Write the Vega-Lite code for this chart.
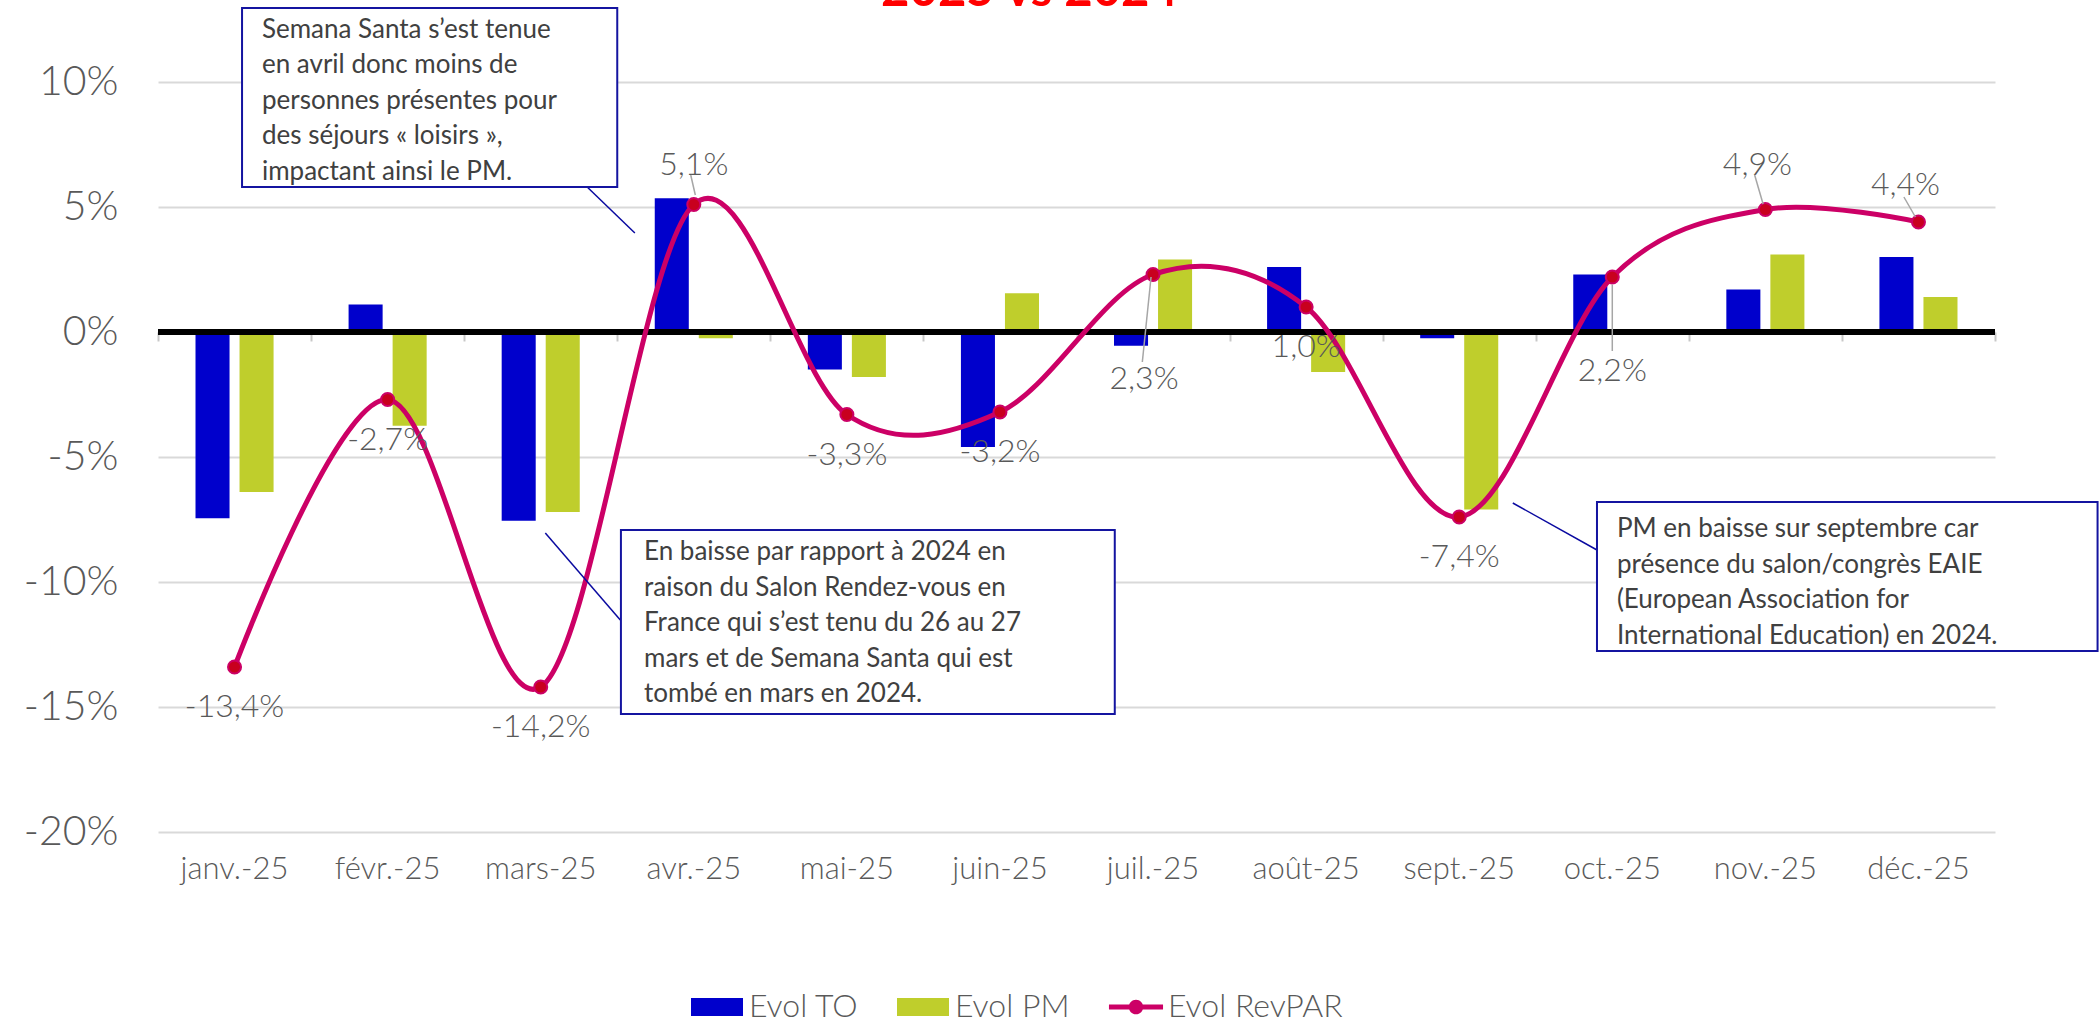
{
  "$schema": "https://vega.github.io/schema/vega-lite/v6.json",
  "autosize": {"type": "none"},
  "width": 1837,
  "height": 750,
  "padding": {"left": 158, "top": 82, "right": 105, "bottom": 198},
  "background": "white",
  "title": {"text": "2025 vs 2024", "color": "#FF0000", "fontSize": 49, "font": "Lato", "fontWeight": "bold", "frame": "group", "anchor": "middle", "offset": 0, "baseline": "alphabetic", "dx": -47, "dy": 48},
  "config": {
    "locale": {"number": {"decimal": ",", "thousands": " ", "grouping": [3], "currency": ["", " €"], "minus": "-"}},
    "view": {"stroke": null},
    "font": "Lato"
  },
  "datasets": {
    "kpi": [
      {"month": "janv.-25", "series": "Evol TO", "value": -0.0745},
      {"month": "janv.-25", "series": "Evol PM", "value": -0.064},
      {"month": "janv.-25", "series": "Evol RevPAR", "value": -0.134},
      {"month": "févr.-25", "series": "Evol TO", "value": 0.011},
      {"month": "févr.-25", "series": "Evol PM", "value": -0.0375},
      {"month": "févr.-25", "series": "Evol RevPAR", "value": -0.027},
      {"month": "mars-25", "series": "Evol TO", "value": -0.0755},
      {"month": "mars-25", "series": "Evol PM", "value": -0.072},
      {"month": "mars-25", "series": "Evol RevPAR", "value": -0.142},
      {"month": "avr.-25", "series": "Evol TO", "value": 0.0535},
      {"month": "avr.-25", "series": "Evol PM", "value": -0.0025},
      {"month": "avr.-25", "series": "Evol RevPAR", "value": 0.051},
      {"month": "mai-25", "series": "Evol TO", "value": -0.015},
      {"month": "mai-25", "series": "Evol PM", "value": -0.018},
      {"month": "mai-25", "series": "Evol RevPAR", "value": -0.033},
      {"month": "juin-25", "series": "Evol TO", "value": -0.046},
      {"month": "juin-25", "series": "Evol PM", "value": 0.0155},
      {"month": "juin-25", "series": "Evol RevPAR", "value": -0.032},
      {"month": "juil.-25", "series": "Evol TO", "value": -0.0055},
      {"month": "juil.-25", "series": "Evol PM", "value": 0.029},
      {"month": "juil.-25", "series": "Evol RevPAR", "value": 0.023},
      {"month": "août-25", "series": "Evol TO", "value": 0.026},
      {"month": "août-25", "series": "Evol PM", "value": -0.016},
      {"month": "août-25", "series": "Evol RevPAR", "value": 0.010},
      {"month": "sept.-25", "series": "Evol TO", "value": -0.0025},
      {"month": "sept.-25", "series": "Evol PM", "value": -0.071},
      {"month": "sept.-25", "series": "Evol RevPAR", "value": -0.074},
      {"month": "oct.-25", "series": "Evol TO", "value": 0.023},
      {"month": "oct.-25", "series": "Evol PM", "value": 0.0},
      {"month": "oct.-25", "series": "Evol RevPAR", "value": 0.022},
      {"month": "nov.-25", "series": "Evol TO", "value": 0.017},
      {"month": "nov.-25", "series": "Evol PM", "value": 0.031},
      {"month": "nov.-25", "series": "Evol RevPAR", "value": 0.049},
      {"month": "déc.-25", "series": "Evol TO", "value": 0.030},
      {"month": "déc.-25", "series": "Evol PM", "value": 0.014},
      {"month": "déc.-25", "series": "Evol RevPAR", "value": 0.044}
    ]
  },
  "data": {"name": "kpi"},
  "resolve": {"scale": {"x": "independent"}, "axis": {"x": "independent"}},
  "layer": [
    {
      "encoding": {
        "y": {"field": "value", "type": "quantitative", "scale": {"domain": [-0.2, 0.1], "nice": false},
          "axis": {"title": null, "values": [-0.2, -0.15, -0.1, -0.05, 0, 0.05, 0.1], "format": ".0%", "domain": false, "ticks": false, "grid": true, "gridColor": "#D9D9D9", "gridWidth": 2, "labelFont": "Lato", "labelFontSize": 41, "labelFontWeight": 300, "labelColor": "#595959", "labelPadding": 40}}
      },
      "layer": [
        {
          "transform": [{"filter": {"field": "series", "oneOf": ["Evol TO", "Evol PM"]}}],
          "mark": {"type": "bar"},
          "encoding": {
            "x": {"field": "month", "type": "nominal", "sort": null, "scale": {"type": "band", "paddingInner": 0.49, "paddingOuter": 0.245},
              "axis": {"title": null, "domain": false, "ticks": false, "grid": false, "labelAngle": 0, "labelFont": "Lato", "labelFontSize": 31, "labelFontWeight": 300, "labelColor": "#595959", "labelPadding": 22}},
            "xOffset": {"field": "series", "type": "nominal", "sort": ["Evol TO", "Evol PM"], "scale": {"paddingInner": 0.227, "paddingOuter": 0}},
            "color": {"field": "series", "type": "nominal",
              "scale": {"domain": ["Evol TO", "Evol PM", "Evol RevPAR"], "range": ["#0000CC", "#BFCE2C", "#CC0066"]},
              "legend": {"orient": "none", "legendX": 533, "legendY": 899, "direction": "horizontal", "title": null,
                "labelFont": "Lato", "labelFontSize": 32, "labelFontWeight": 300, "labelColor": "#595959", "labelOffset": 6, "labelLimit": 400, "columnPadding": 38, "symbolSize": 2704, "symbolStrokeWidth": 0,
                "encode": {"symbols": {"update": {
                  "shape": {"signal": "datum.value === 'Evol RevPAR' ? 'M-1.04,-0.1H1.04V0.1H-1.04Z M-0.28,0A0.28,0.28,0,1,1,0.28,0A0.28,0.28,0,1,1,-0.28,0Z' : 'M-1,-0.35H1V0.35H-1Z'"},
                  "fill": {"scale": "color", "field": "value"},
                  "stroke": {"value": "transparent"},
                  "opacity": {"value": 1}}}}}}
          }
        },
        {
          "mark": {"type": "rule", "color": "#000000", "strokeWidth": 5},
          "encoding": {"y": {"datum": 0}}
        },
        {
          "transform": [{"filter": {"field": "series", "equal": "Evol RevPAR"}}],
          "mark": {"type": "line", "interpolate": "cardinal", "color": "#CC0066", "strokeWidth": 5},
          "encoding": {"x": {"field": "month", "type": "nominal", "sort": null}}
        },
        {
          "transform": [{"filter": {"field": "series", "equal": "Evol RevPAR"}}],
          "mark": {"type": "point", "filled": true, "fill": "#C8001E", "stroke": "#CC0066", "strokeWidth": 2, "size": 170, "opacity": 1},
          "encoding": {"x": {"field": "month", "type": "nominal", "sort": null}}
        },
        {
          "transform": [{"filter": {"field": "series", "equal": "Evol RevPAR"}}, {"filter": {"field": "month", "oneOf": ["janv.-25", "févr.-25", "mars-25", "mai-25", "juin-25", "août-25", "sept.-25"]}}],
          "mark": {"type": "text", "dy": 40, "baseline": "middle", "font": "Lato", "fontSize": 32, "fontWeight": 300, "color": "#595959"},
          "encoding": {"x": {"field": "month", "type": "nominal", "sort": null}, "text": {"field": "value", "type": "quantitative", "format": ".1%"}}
        },
        {
          "transform": [{"filter": {"field": "series", "equal": "Evol RevPAR"}}, {"filter": {"field": "month", "equal": "avr.-25"}}],
          "mark": {"type": "text", "dy": -40, "baseline": "middle", "font": "Lato", "fontSize": 32, "fontWeight": 300, "color": "#595959"},
          "encoding": {"x": {"field": "month", "type": "nominal", "sort": null}, "text": {"field": "value", "type": "quantitative", "format": ".1%"}}
        },
        {
          "transform": [{"filter": {"field": "series", "equal": "Evol RevPAR"}}, {"filter": {"field": "month", "equal": "juil.-25"}}],
          "mark": {"type": "text", "dy": 104, "dx": -9, "baseline": "middle", "font": "Lato", "fontSize": 32, "fontWeight": 300, "color": "#595959"},
          "encoding": {"x": {"field": "month", "type": "nominal", "sort": null}, "text": {"field": "value", "type": "quantitative", "format": ".1%"}}
        },
        {
          "transform": [{"filter": {"field": "series", "equal": "Evol RevPAR"}}, {"filter": {"field": "month", "equal": "oct.-25"}}],
          "mark": {"type": "text", "dy": 94, "baseline": "middle", "font": "Lato", "fontSize": 32, "fontWeight": 300, "color": "#595959"},
          "encoding": {"x": {"field": "month", "type": "nominal", "sort": null}, "text": {"field": "value", "type": "quantitative", "format": ".1%"}}
        },
        {
          "transform": [{"filter": {"field": "series", "equal": "Evol RevPAR"}}, {"filter": {"field": "month", "equal": "nov.-25"}}],
          "mark": {"type": "text", "dy": -45, "dx": -8, "baseline": "middle", "font": "Lato", "fontSize": 32, "fontWeight": 300, "color": "#595959"},
          "encoding": {"x": {"field": "month", "type": "nominal", "sort": null}, "text": {"field": "value", "type": "quantitative", "format": ".1%"}}
        },
        {
          "transform": [{"filter": {"field": "series", "equal": "Evol RevPAR"}}, {"filter": {"field": "month", "equal": "déc.-25"}}],
          "mark": {"type": "text", "dy": -37, "dx": -13, "baseline": "middle", "font": "Lato", "fontSize": 32, "fontWeight": 300, "color": "#595959"},
          "encoding": {"x": {"field": "month", "type": "nominal", "sort": null}, "text": {"field": "value", "type": "quantitative", "format": ".1%"}}
        }
      ]
    },
    {
      "data": {"values": [{}]},
      "layer": [
        {
          "mark": {"type": "rule", "color": "#0A0AA0", "strokeWidth": 1.5},
          "encoding": {
            "x": {"datum": 2.79, "type": "quantitative", "scale": {"domain": [0, 12], "nice": false, "zero": false},
              "axis": {"orient": "bottom", "offset": -500, "values": [0, 1, 2, 3, 4, 5, 6, 7, 8, 9, 10, 11, 12], "labels": false, "domain": false, "grid": false, "ticks": true, "tickSize": 9, "tickColor": "#C8C8C8", "tickWidth": 2, "title": null}},
            "y": {"datum": 0.0588, "type": "quantitative"},
            "x2": {"datum": 3.115},
            "y2": {"datum": 0.0396}
          }
        },
        {
          "mark": {"type": "rule", "color": "#0A0AA0", "strokeWidth": 1.5},
          "encoding": {
            "x": {"datum": 2.53, "type": "quantitative", "scale": {"domain": [0, 12], "nice": false, "zero": false}},
            "y": {"datum": -0.0804, "type": "quantitative"},
            "x2": {"datum": 3.02},
            "y2": {"datum": -0.1152}
          }
        },
        {
          "mark": {"type": "rule", "color": "#0A0AA0", "strokeWidth": 1.5},
          "encoding": {
            "x": {"datum": 8.85, "type": "quantitative", "scale": {"domain": [0, 12], "nice": false, "zero": false}},
            "y": {"datum": -0.0684, "type": "quantitative"},
            "x2": {"datum": 9.40},
            "y2": {"datum": -0.0872}
          }
        },
        {
          "mark": {"type": "rule", "color": "#A6A6A6", "strokeWidth": 1.5},
          "encoding": {
            "x": {"datum": 3.48, "type": "quantitative", "scale": {"domain": [0, 12], "nice": false, "zero": false}},
            "y": {"datum": 0.0628, "type": "quantitative"},
            "x2": {"datum": 3.51},
            "y2": {"datum": 0.0548}
          }
        },
        {
          "mark": {"type": "rule", "color": "#A6A6A6", "strokeWidth": 1.5},
          "encoding": {
            "x": {"datum": 6.43, "type": "quantitative", "scale": {"domain": [0, 12], "nice": false, "zero": false}},
            "y": {"datum": -0.012, "type": "quantitative"},
            "x2": {"datum": 6.487},
            "y2": {"datum": 0.022}
          }
        },
        {
          "mark": {"type": "rule", "color": "#A6A6A6", "strokeWidth": 1.5},
          "encoding": {
            "x": {"datum": 9.5, "type": "quantitative", "scale": {"domain": [0, 12], "nice": false, "zero": false}},
            "y": {"datum": -0.0076, "type": "quantitative"},
            "x2": {"datum": 9.5},
            "y2": {"datum": 0.019}
          }
        },
        {
          "mark": {"type": "rule", "color": "#A6A6A6", "strokeWidth": 1.5},
          "encoding": {
            "x": {"datum": 10.43, "type": "quantitative", "scale": {"domain": [0, 12], "nice": false, "zero": false}},
            "y": {"datum": 0.0628, "type": "quantitative"},
            "x2": {"datum": 10.485},
            "y2": {"datum": 0.0512}
          }
        },
        {
          "mark": {"type": "rule", "color": "#A6A6A6", "strokeWidth": 1.5},
          "encoding": {
            "x": {"datum": 11.405, "type": "quantitative", "scale": {"domain": [0, 12], "nice": false, "zero": false}},
            "y": {"datum": 0.054, "type": "quantitative"},
            "x2": {"datum": 11.48},
            "y2": {"datum": 0.046}
          }
        },
        {
          "mark": {"type": "rect", "fill": "#FFFFFF", "stroke": "#1414A0", "strokeWidth": 2},
          "encoding": {
            "x": {"datum": 0.549, "type": "quantitative", "scale": {"domain": [0, 12], "nice": false, "zero": false}},
            "x2": {"datum": 3.0},
            "y": {"datum": 0.1296, "type": "quantitative"},
            "y2": {"datum": 0.058}
          }
        },
        {
          "mark": {"type": "rect", "fill": "#FFFFFF", "stroke": "#1414A0", "strokeWidth": 2},
          "encoding": {
            "x": {"datum": 3.024, "type": "quantitative", "scale": {"domain": [0, 12], "nice": false, "zero": false}},
            "x2": {"datum": 6.25},
            "y": {"datum": -0.0792, "type": "quantitative"},
            "y2": {"datum": -0.1528}
          }
        },
        {
          "mark": {"type": "rect", "fill": "#FFFFFF", "stroke": "#1414A0", "strokeWidth": 2},
          "encoding": {
            "x": {"datum": 9.40, "type": "quantitative", "scale": {"domain": [0, 12], "nice": false, "zero": false}},
            "x2": {"datum": 12.67},
            "y": {"datum": -0.068, "type": "quantitative"},
            "y2": {"datum": -0.1276}
          }
        },
        {
          "mark": {"type": "text", "align": "left", "baseline": "top", "font": "Lato", "fontSize": 26, "lineHeight": 35.5, "color": "#404040"},
          "encoding": {
            "x": {"datum": 0.679, "type": "quantitative", "scale": {"domain": [0, 12], "nice": false, "zero": false}},
            "y": {"datum": 0.1262, "type": "quantitative"},
            "text": {"value": ["Semana Santa s’est tenue", "en avril donc moins de", "personnes présentes pour", "des séjours « loisirs »,", "impactant ainsi le PM."]}
          }
        },
        {
          "mark": {"type": "text", "align": "left", "baseline": "top", "font": "Lato", "fontSize": 26, "lineHeight": 35.5, "color": "#404040"},
          "encoding": {
            "x": {"datum": 3.175, "type": "quantitative", "scale": {"domain": [0, 12], "nice": false, "zero": false}},
            "y": {"datum": -0.0828, "type": "quantitative"},
            "text": {"value": ["En baisse par rapport à 2024 en", "raison du Salon Rendez-vous en", "France qui s’est tenu du 26 au 27", "mars et de Semana Santa qui est", "tombé en mars en 2024."]}
          }
        },
        {
          "mark": {"type": "text", "align": "left", "baseline": "top", "font": "Lato", "fontSize": 26, "lineHeight": 35.5, "color": "#404040"},
          "encoding": {
            "x": {"datum": 9.53, "type": "quantitative", "scale": {"domain": [0, 12], "nice": false, "zero": false}},
            "y": {"datum": -0.0736, "type": "quantitative"},
            "text": {"value": ["PM en baisse sur septembre car", "présence du salon/congrès EAIE", "(European Association for", "International Education) en 2024."]}
          }
        }
      ]
    }
  ]
}
